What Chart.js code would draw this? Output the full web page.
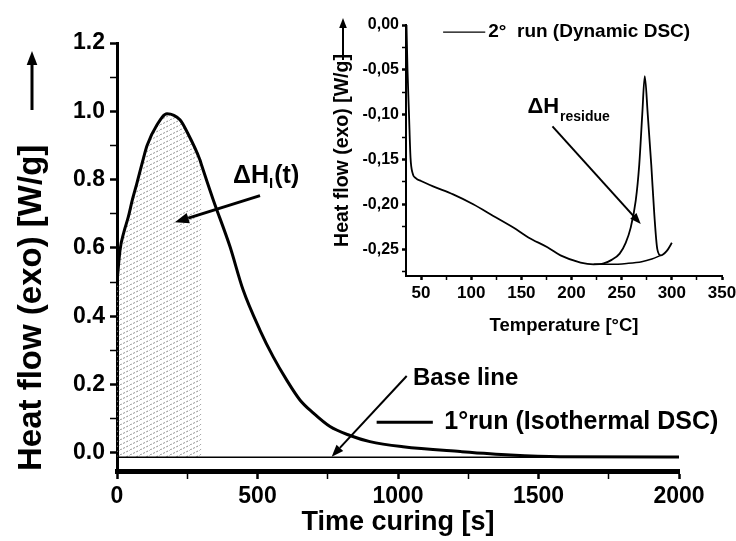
<!DOCTYPE html>
<html>
<head>
<meta charset="utf-8">
<script src="https://cdn.jsdelivr.net/npm/chart.js@4.4.0/dist/chart.umd.min.js"></script>
<style>
  html, body { margin: 0; padding: 0; background: #fff; overflow: hidden; }
  #wrap { position: relative; width: 736px; height: 541px; overflow: hidden; }
  #mainChart { position: absolute; left: 0; top: 0; }
  #insetChart { position: absolute; left: 330px; top: 0; }
</style>
</head>
<body>
<div id="wrap">
  <canvas id="mainChart" width="736" height="541"></canvas>
  <canvas id="insetChart" width="420" height="345"></canvas>
</div>
<script>
// 1st run, isothermal DSC (main plot)
const timeS = [0, 11, 25, 40, 55, 70, 90, 107, 142, 178, 224, 249, 295, 300, 342, 402, 448, 509, 556, 604, 651, 698, 758, 829, 900, 1018, 1221, 1400, 1577, 2000];
const heatFlow1 = [0.50, 0.595, 0.648, 0.69, 0.742, 0.787, 0.85, 0.90, 0.96, 0.993, 0.975, 0.94, 0.858, 0.845, 0.742, 0.604, 0.479, 0.359, 0.281, 0.213, 0.155, 0.117, 0.077, 0.051, 0.033, 0.018, 0.004, -0.006, -0.011, -0.012];
const baseLineT = [0, 2000];
const baseLineV = [-0.013, -0.013];
const shadeUntil = 300;

const mainXMajor = [0, 500, 1000, 1500, 2000];
const mainXMinor = [250, 750, 1250, 1750];
const mainYMajor = [0, 0.2, 0.4, 0.6, 0.8, 1.0, 1.2];
const mainYMinor = [0.1, 0.3, 0.5, 0.7, 0.9, 1.1];

// 2nd run, dynamic DSC (inset)
const tempC = [35.5, 36.5, 38, 39.5, 41.5, 45, 50, 62, 82, 102, 122, 142, 157, 176, 189, 209, 222, 232, 240, 248, 254, 259, 264, 267.5, 270.5, 273, 276, 279.5, 282.5, 285.5, 289, 295, 300];
const heatFlow2 = [0.0, -0.05, -0.10, -0.148, -0.165, -0.171, -0.174, -0.18, -0.189, -0.2, -0.213, -0.226, -0.237, -0.248, -0.257, -0.265, -0.267, -0.266, -0.262, -0.255, -0.243, -0.226, -0.196, -0.156, -0.1, -0.057, -0.1, -0.156, -0.211, -0.25, -0.257, -0.252, -0.243];
const residueBaseT = [222, 240, 255, 270, 280, 289];
const residueBaseV = [-0.267, -0.267, -0.266, -0.264, -0.261, -0.257];

const insetXMajor = [50, 100, 150, 200, 250, 300, 350];
const insetXMinor = [75, 125, 175, 225, 275, 325];
const insetYMajor = [0, -0.05, -0.10, -0.15, -0.20, -0.25];
const insetYMinor = [-0.025, -0.075, -0.125, -0.175, -0.225, -0.275];

const FONT = "'Liberation Sans', Arial, sans-serif";
Chart.defaults.font.family = FONT;
Chart.defaults.color = "#000";

const toPoints = (xs, ys) => xs.map((x, i) => ({ x: x, y: ys[i] }));
const allTicks = (major, minor) => major.concat(minor).sort((a, b) => a - b).map((v) => ({ value: v }));
const isMajor = (list, v) => list.some((m) => Math.abs(m - v) < 1e-9);

function hatchPattern() {
  const c = document.createElement("canvas");
  c.width = 10;
  c.height = 5;
  const g = c.getContext("2d");
  g.strokeStyle = "#8c8c8c";
  g.lineWidth = 1;
  g.setLineDash([2, 1.5]);
  g.beginPath();
  g.moveTo(0, 5);
  g.lineTo(10, 0);
  g.stroke();
  return g.createPattern(c, "repeat");
}

function arrow(ctx, x1, y1, x2, y2, width, head) {
  const a = Math.atan2(y2 - y1, x2 - x1);
  const bx = x2 - head * Math.cos(a);
  const by = y2 - head * Math.sin(a);
  const hw = head * 0.38;
  ctx.save();
  ctx.strokeStyle = "#000";
  ctx.fillStyle = "#000";
  ctx.lineWidth = width;
  ctx.beginPath();
  ctx.moveTo(x1, y1);
  ctx.lineTo(bx, by);
  ctx.stroke();
  ctx.beginPath();
  ctx.moveTo(x2, y2);
  ctx.lineTo(bx + hw * Math.sin(a), by - hw * Math.cos(a));
  ctx.lineTo(bx - hw * Math.sin(a), by + hw * Math.cos(a));
  ctx.closePath();
  ctx.fill();
  ctx.restore();
}

function axisOptions(major, minor, fmt, fontSize, tickLen, borderWidth) {
  return {
    type: "linear",
    afterBuildTicks: (s) => { s.ticks = allTicks(major, minor); },
    ticks: {
      autoSkip: false,
      maxRotation: 0,
      font: { size: fontSize, weight: "bold" },
      color: "#000",
      callback: (v) => (isMajor(major, v) ? fmt(v) : ""),
    },
    grid: {
      drawOnChartArea: false,
      tickLength: tickLen,
      tickColor: "#000",
      tickWidth: (ctx) => (ctx.tick && isMajor(major, ctx.tick.value) ? 2.5 : 1.5),
    },
    border: { color: "#000", width: borderWidth },
  };
}

// ---------- main chart ----------
const mainNotes = {
  id: "mainNotes",
  afterDatasetsDraw(chart) {
    const ctx = chart.ctx;
    const xs = chart.scales.x;
    const ys = chart.scales.y;
    const px = (t) => xs.getPixelForValue(t);
    const py = (v) => ys.getPixelForValue(v);

    ctx.save();
    ctx.fillStyle = "#000";
    ctx.textBaseline = "middle";
    ctx.textAlign = "left";

    // ΔH_I(t)
    let x = px(413);
    const y = py(0.81);
    ctx.font = "bold 25px " + FONT;
    ctx.fillText("ΔH", x, y);
    x += ctx.measureText("ΔH").width;
    ctx.font = "bold 15px " + FONT;
    ctx.fillText("I", x, y + 8);
    x += ctx.measureText("I").width + 1;
    ctx.font = "bold 25px " + FONT;
    ctx.fillText("(t)", x, y);
    arrow(ctx, px(509), py(0.753), px(206), py(0.675), 3, 14);

    // Base line
    ctx.font = "bold 24px " + FONT;
    ctx.fillText("Base line", px(1053), py(0.219));
    arrow(ctx, px(1031), py(0.225), px(764), py(-0.011), 2, 12);

    // legend
    ctx.lineWidth = 3;
    ctx.beginPath();
    ctx.moveTo(px(924), py(0.09));
    ctx.lineTo(px(1124), py(0.09));
    ctx.stroke();
    ctx.font = "bold 25px " + FONT;
    ctx.fillText("1°run (Isothermal DSC)", px(1165), py(0.09));

    // arrow beside the y title
    const ax = ys.left + 32;
    arrow(ctx, ax, chart.chartArea.top + 67, ax, chart.chartArea.top + 8, 3, 14);
    ctx.restore();
  },
};

const mainX = axisOptions(mainXMajor, mainXMinor, (v) => String(v), 23, 8, 5);
mainX.min = 0;
mainX.max = 2000;
mainX.ticks.padding = 4;
mainX.title = { display: true, text: "Time curing [s]", font: { size: 27, weight: "bold" }, color: "#000", padding: { top: 0, bottom: 2 } };
mainX.afterFit = (s) => { s.height = 70; };

const mainY = axisOptions(mainYMajor, mainYMinor, (v) => v.toFixed(1), 23, 7, 3);
mainY.min = -0.053;
mainY.max = 1.2;
mainY.ticks.padding = 5;
mainY.title = { display: true, align: "start", text: "Heat flow (exo) [W/g]", font: { size: 33, weight: "bold" }, color: "#000", padding: { top: 12, bottom: 0 } };
mainY.afterFit = (s) => { s.width = 117; };

const curve1 = toPoints(timeS, heatFlow1);

new Chart(document.getElementById("mainChart"), {
  type: "line",
  data: {
    datasets: [
      {
        label: "1°run (Isothermal DSC)",
        data: curve1,
        borderColor: "#000",
        borderWidth: 3,
        pointRadius: 0,
        cubicInterpolationMode: "monotone",
        fill: false,
      },
      {
        label: "Base line",
        data: toPoints(baseLineT, baseLineV),
        borderColor: "#000",
        borderWidth: 1.5,
        pointRadius: 0,
        fill: false,
      },
      {
        label: "ΔH_I(t)",
        data: curve1.filter((p) => p.x <= shadeUntil),
        borderWidth: 0,
        borderColor: "rgba(0,0,0,0)",
        backgroundColor: hatchPattern(),
        pointRadius: 0,
        cubicInterpolationMode: "monotone",
        fill: { value: baseLineV[0] },
      },
    ],
  },
  options: {
    responsive: false,
    animation: false,
    devicePixelRatio: 1,
    layout: { padding: { left: 0, right: 57, top: 43, bottom: 0 } },
    plugins: { legend: { display: false }, tooltip: { enabled: false } },
    scales: { x: mainX, y: mainY },
  },
  plugins: [mainNotes],
});

// ---------- inset chart ----------
const insetNotes = {
  id: "insetNotes",
  afterDatasetsDraw(chart) {
    const ctx = chart.ctx;
    const xs = chart.scales.x;
    const ys = chart.scales.y;
    const px = (t) => xs.getPixelForValue(t);
    const py = (v) => ys.getPixelForValue(v);

    ctx.save();
    ctx.fillStyle = "#000";
    ctx.textBaseline = "middle";
    ctx.textAlign = "left";

    // legend
    ctx.lineWidth = 1.2;
    ctx.beginPath();
    ctx.moveTo(px(72), py(-0.008));
    ctx.lineTo(px(114), py(-0.008));
    ctx.stroke();
    ctx.font = "bold 19px " + FONT;
    ctx.fillText("2°  run (Dynamic DSC)", px(117), py(-0.008));

    // ΔH_residue
    let x = px(156);
    const y = py(-0.091);
    ctx.font = "bold 22px " + FONT;
    ctx.fillText("ΔH", x, y);
    x += ctx.measureText("ΔH").width + 1;
    ctx.font = "bold 14px " + FONT;
    ctx.fillText("residue", x, y + 11);
    arrow(ctx, px(181), py(-0.113), px(269), py(-0.222), 2, 11);

    // arrow beside the y title
    const ax = ys.left + 13;
    arrow(ctx, ax, chart.chartArea.top + 35, ax, chart.chartArea.top - 7, 2, 10);
    ctx.restore();
  },
};

const insetX = axisOptions(insetXMajor, insetXMinor, (v) => String(v), 17, 4, 2);
insetX.min = 35;
insetX.max = 350;
insetX.ticks.padding = 3;
insetX.title = { display: true, text: "Temperature [°C]", font: { size: 18.5, weight: "bold" }, color: "#000", padding: { top: 0, bottom: 8 } };
insetX.afterFit = (s) => { s.height = 69; };

const insetY = axisOptions(insetYMajor, insetYMinor, (v) => v.toFixed(2).replace(".", ","), 16, 4, 2);
insetY.min = -0.28;
insetY.max = 0;
insetY.ticks.padding = 3;
insetY.title = { display: true, text: "Heat flow (exo) [W/g]", font: { size: 19.5, weight: "bold" }, color: "#000", padding: { top: 1, bottom: 0 } };
insetY.afterFit = (s) => { s.width = 76; };

new Chart(document.getElementById("insetChart"), {
  type: "line",
  data: {
    datasets: [
      {
        label: "2°  run (Dynamic DSC)",
        data: toPoints(tempC, heatFlow2),
        borderColor: "#000",
        borderWidth: 1.8,
        pointRadius: 0,
        cubicInterpolationMode: "monotone",
        fill: false,
      },
      {
        label: "residue base line",
        data: toPoints(residueBaseT, residueBaseV),
        borderColor: "#000",
        borderWidth: 1.5,
        pointRadius: 0,
        cubicInterpolationMode: "monotone",
        fill: false,
      },
    ],
  },
  options: {
    responsive: false,
    animation: false,
    devicePixelRatio: 1,
    layout: { padding: { left: 0, right: 28, top: 25, bottom: 0 } },
    plugins: { legend: { display: false }, tooltip: { enabled: false } },
    scales: { x: insetX, y: insetY },
  },
  plugins: [insetNotes],
});
</script>
</body>
</html>
